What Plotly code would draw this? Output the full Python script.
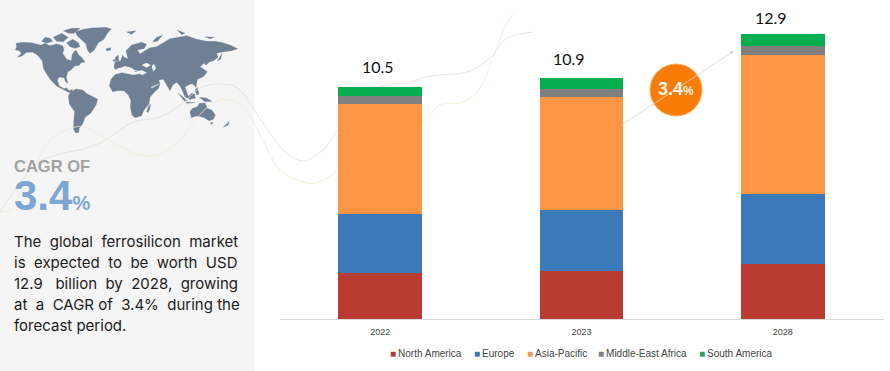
import plotly.graph_objects as go

W, H = 890, 371

years = ["2022", "2023", "2028"]
north_america = [2.08, 2.17, 2.49]
europe = [2.67, 2.76, 3.17]
asia_pacific = [4.96, 5.11, 6.29]
middle_east_africa = [0.36, 0.36, 0.41]
south_america = [0.43, 0.50, 0.54]
totals = [10.5, 10.9, 12.9]
total_labels = ["10.5", "10.9", "12.9"]
series_names = ["North America", "Europe", "Asia-Pacific", "Middle-East Africa", "South America"]
series_colors = ["#b83c32", "#3b79b8", "#fd9644", "#7f7f7f", "#07ae4f"]
legend_colors = ["#b0392f", "#3b78a8", "#e0a060", "#7f7f7f", "#2f9e62"]
series_values = [north_america, europe, asia_pacific, middle_east_africa, south_america]

# decoration outlines, in 3x pixel units of the picture
MAP = [
 # North America
 [(46,150),(50,140),(48,130),(70,127),(95,128),(122,135),(135,130),(150,137),(170,132),(188,137),(192,148),(188,160),(200,178),(214,182),(216,165),(222,155),(228,150),(236,165),(245,172),(255,186),(243,188),(238,196),(224,198),(213,210),(203,216),(199,232),(203,250),(197,245),(192,233),(178,231),(172,240),(178,258),(192,266),(200,263),(207,272),(218,268),(212,278),(204,276),(188,268),(170,258),(152,240),(140,222),(130,205),(127,183),(112,165),(98,157),(80,157),(66,168),(52,172),(64,160),(58,152)],
 # Greenland
 [(226,95),(250,88),(275,84),(318,82),(334,87),(322,100),(312,118),(295,128),(283,150),(270,160),(262,150),(258,132),(243,118),(232,108)],
 # Arctic islands
 [(125,124),(135,112),(150,115),(158,124),(140,130)],
 [(160,112),(185,100),(205,112),(190,125),(170,124)],
 [(190,92),(215,85),(240,85),(222,100),(205,100)],
 [(200,128),(218,118),(235,128),(240,140),(225,145),(210,140)],
 # South America
 [(205,288),(212,275),(228,267),(248,270),(262,282),(275,288),(293,298),(288,315),(272,340),(255,352),(248,372),(238,385),(236,398),(226,398),(220,385),(222,355),(224,335),(208,312)],
 # Africa
 [(328,258),(333,238),(345,224),(365,218),(385,222),(400,225),(418,222),(432,228),(442,248),(455,265),(480,252),(476,265),(460,280),(450,292),(447,312),(432,330),(425,347),(405,353),(396,345),(391,322),(393,302),(385,285),(372,272),(352,272),(338,275)],
 [(445,320),(452,312),(449,328),(444,338),(440,335)],
 # Eurasia
 [(342,200),(345,185),(362,182),(368,165),(372,172),(384,176),(378,152),(395,135),(425,127),(440,133),(432,146),(412,150),(420,162),(435,152),(450,143),(470,140),(490,128),(510,116),(535,112),(560,107),(590,118),(620,124),(645,124),(668,128),(690,135),(713,146),(695,152),(672,155),(650,160),(654,172),(640,182),(628,186),(618,196),(612,190),(600,200),(622,215),(610,230),(592,238),(588,262),(578,252),(570,252),(555,262),(563,285),(572,300),(555,290),(546,270),(540,258),(530,247),(518,255),(510,272),(500,255),(490,238),(476,240),(470,225),(480,250),(450,262),(440,245),(428,225),(442,218),(425,210),(405,215),(398,205),(385,200),(372,198),(360,208),(345,208)],
 # Australia, NZ, Japan, others
 [(570,335),(578,325),(592,320),(598,310),(615,309),(622,325),(635,330),(646,345),(640,358),(628,362),(610,352),(590,348),(574,353)],
 [(670,381),(680,372),(688,364),(684,376)],
 [(632,367),(640,368),(634,374)],
 [(652,182),(660,170),(666,160),(662,178)],
 [(318,146),(332,143),(331,151),(320,152)],
 [(346,172),(355,165),(356,182),(346,184)],
 [(338,180),(344,178),(343,186)],
 [(563,292),(575,280),(584,283),(586,295),(572,297)],
 [(535,280),(548,290),(562,303),(553,303)],
 [(558,306),(585,308),(560,310)],
 [(598,292),(618,294),(636,304),(615,305)],
 [(585,270),(592,262),(597,282),(590,285)],
 [(380,96),(408,92),(395,103)],
 [(458,125),(470,112),(488,106),(472,124)],
 [(532,90),(555,100),(545,104)],
 [(615,110),(642,112),(630,116)],
]
MAP_HOLES = [
 [(425,195),(440,188),(452,195),(440,203)],
 [(455,198),(462,192),(468,205),(460,215)],
 [(348,206),(372,201),(395,208),(420,214),(395,212),(365,214)],
]
GRAY_CURVE = [(0,212),(30,170),(50,157),(90,147),(110,137),(133,122),(160,117),(183,103),(200,88),(220,84),(240,90),(263,123),(283,150),(303,161),(323,150),(338,130),(370,92),(390,85),(407,83),(430,76),(467,72),(490,58),(507,38),(533,32)]
YELLOW_CURVE = [(0,212),(13,207),(33,170),(50,140),(72,128),(87,128),(113,143),(140,155),(160,154),(180,140),(197,118),(213,103),(230,100),(247,112),(263,140),(280,170),(307,183),(323,180),(338,170),(380,140),(422,122),(440,105),(463,102),(480,88),(493,57),(507,23),(517,10)]

def px(x): return x / W
def py(y): return 1 - y / H

def poly(points):
    return "M" + "L".join(f"{px(x/3):.5f},{py(y/3):.5f}" for x, y in points) + "Z"

def smooth(points):
    p = [(px(x), py(y)) for x, y in points]
    d = f"M{p[0][0]:.5f},{p[0][1]:.5f}"
    for i in range(len(p) - 1):
        a = p[max(i - 1, 0)]; b = p[i]; c = p[i + 1]; e = p[min(i + 2, len(p) - 1)]
        d += (f"C{b[0]+(c[0]-a[0])/6:.5f},{b[1]+(c[1]-a[1])/6:.5f} "
              f"{c[0]-(e[0]-b[0])/6:.5f},{c[1]-(e[1]-b[1])/6:.5f} {c[0]:.5f},{c[1]:.5f}")
    return d

fig = go.Figure()
for name, vals, col in zip(series_names, series_values, series_colors):
    fig.add_bar(x=years, y=vals, name=name, marker=dict(color=col, line=dict(width=0)), showlegend=False)

shapes = [dict(type="rect", xref="paper", yref="paper", x0=0, x1=px(254), y0=0, y1=1,
               fillcolor="#f5f5f6", line_width=0, layer="below")]
for m in MAP:
    shapes.append(dict(type="path", xref="paper", yref="paper", path=poly(m), layer="below",
                       fillcolor="#6f8095", line=dict(color="#6f8095", width=0.3)))
for m in MAP_HOLES:
    shapes.append(dict(type="path", xref="paper", yref="paper", path=poly(m), layer="below",
                       fillcolor="#f5f5f6", line=dict(color="#f5f5f6", width=0)))
for c, w in ((GRAY_CURVE, "#dedee1"), (YELLOW_CURVE, "#f3eacf")):
    shapes.append(dict(type="path", xref="paper", yref="paper", path=smooth(c), layer="below",
                       line=dict(color=w, width=0.8)))

annotations = []
def text(x, y, t, size, color, family="Liberation Sans", xanchor="left"):
    annotations.append(dict(xref="paper", yref="paper", x=px(x), y=py(y), text=t, showarrow=False,
                            xanchor=xanchor, yanchor="middle", align="left",
                            font=dict(size=size, color=color, family=family), borderpad=0))

# arrow and circle
annotations.append(dict(xref="paper", yref="paper", x=px(734), y=py(51), ax=-114, ay=75, text="", showarrow=True,
                        arrowhead=2, arrowsize=1, arrowwidth=0.8, arrowcolor="#d5d5d5"))
shapes.append(dict(type="circle", xref="paper", yref="paper", x0=px(650), x1=px(702), y0=py(116), y1=py(64),
                   fillcolor="#f97c08", line=dict(color="#fbb060", width=1), layer="above"))
text(676, 89, "<b>3.4</b><span style='font-size:12px'><b>%</b></span>", 18, "#fdf3e6", "Liberation Sans", "center")

# totals
for i, (total, lab, dx, dy) in enumerate(zip(totals, total_labels, (-2, -13, -12), (9, 8, 5))):
    annotations.append(dict(x=i, y=total, xref="x", yref="y", text=lab, showarrow=False, xanchor="center",
                            yanchor="bottom", yshift=dy, xshift=dx, font=dict(size=16, color="#111", family="Lato")))

# left text
headline = ("<span style='font-size:16.5px;color:#a3a3a3'><b>CAGR OF</b></span><br>"
            "<span style='font-size:42px;color:#7ca7d2'><b>3.4</b></span>"
            "<span style='font-size:20px;color:#7ca7d2'><b>%</b></span>")
text(13, 188, headline, 29, "#7ca7d2", "Liberation Sans")
sp = "\u00a0"
lines = [
    (f"The{sp*2}global{sp*2}ferrosilicon{sp*2}market", 241),
    (f"is{sp*2}expected{sp*2}to{sp*2}be{sp*2}worth{sp*2}USD", 262),
    (f"12.9{sp*3}billion{sp*2}by{sp*2}2028,{sp*2}growing", 283),
    (f"at{sp*2}a{sp*2}CAGR{sp}of{sp*2}3.4%{sp*2}during{sp}the", 304),
    ("forecast period.", 325),
]
for t, y in lines:
    text(13, y, t, 15, "#1c1c1c", "Inter")

# legend
legend_x = [389, 473, 526, 597, 698]
for name, col, x in zip(series_names, legend_colors, legend_x):
    text(x, 353, f"<span style='color:{col}'>■</span>\u2009{name}", 10, "#444444")

fig.update_layout(
    width=W, height=H, margin=dict(l=0, r=0, t=0, b=0),
    paper_bgcolor="white", plot_bgcolor="rgba(0,0,0,0)",
    barmode="stack", bargap=0.583, showlegend=False,
    xaxis=dict(domain=[px(279.5), px(883.5)], type="category", categoryorder="array", categoryarray=years,
               range=[-0.5, 2.5], automargin=False,
               showgrid=False, zeroline=False, showline=True, linecolor="#d9d9d9", linewidth=1,
               ticks="", tickfont=dict(size=9, color="#444444", family="Liberation Sans"), ticklabelstandoff=4),
    yaxis=dict(domain=[py(319), 1], range=[0, 319 / 22.1], visible=False, automargin=False),
    shapes=shapes, annotations=annotations,
)
fig.write_html("out.html", post_script="document.body.style.margin='0';", config=dict(displayModeBar=False))
